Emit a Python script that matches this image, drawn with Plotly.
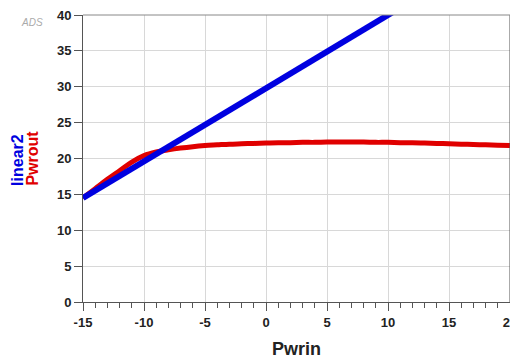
import plotly.graph_objects as go

pwrin = [-15, -14, -13, -12, -11, -10, -9, -8, -7, -6, -5, -4, -3, -2, -1, 0,
         1, 2, 3, 4, 5, 6, 7, 8, 9, 10, 11, 12, 13, 14, 15, 16, 17, 18, 19, 20]
pwrout = [14.5, 15.8, 17.1, 18.3, 19.5, 20.4, 20.9, 21.2, 21.45, 21.65, 21.8, 21.9, 22.0, 22.05, 22.1, 22.15,
          22.2, 22.2, 22.25, 22.25, 22.3, 22.3, 22.3, 22.3, 22.25, 22.25, 22.2, 22.2, 22.15, 22.1, 22.05, 22.0,
          21.95, 21.9, 21.85, 21.8]
lin_x = [-15, -10, -5, 0, 5, 10, 15, 20]
linear2 = [14.5, 19.6, 24.7, 29.8, 34.9, 40.0, 45.1, 50.2]

x_ticks = [-15, -10, -5, 0, 5, 10, 15, 20]
y_ticks = [0, 5, 10, 15, 20, 25, 30, 35, 40]

FONT = "Liberation Sans, Arial"
fig = go.Figure()
fig.add_trace(go.Scatter(x=pwrin, y=pwrout, mode="lines", name="Pwrout",
                         line=dict(color="#e00000", width=5, shape="spline")))
fig.add_trace(go.Scatter(x=lin_x, y=linear2, mode="lines", name="linear2",
                         line=dict(color="#0000e0", width=6)))

tickfont = dict(family=FONT, size=13, color="#222", weight="bold")
fig.update_layout(
    width=510, height=355,
    margin=dict(l=75, r=8, t=7, b=61, autoexpand=False),
    paper_bgcolor="white", plot_bgcolor="white",
    showlegend=False,
    xaxis=dict(range=[-15, 20], tickvals=x_ticks, ticktext=[str(v) for v in x_ticks],
               showgrid=True, gridcolor="#d8d8d8", gridwidth=1,
               showline=True, linecolor="#555", linewidth=1,
               ticks="outside", ticklen=8, tickcolor="#555",
               minor=dict(dtick=1, ticks="outside", ticklen=5, tickcolor="#555", showgrid=False),
               tickfont=tickfont, zeroline=False, automargin=False, ticklabeloverflow="allow",
               title=dict(text="<b>Pwrin</b>", font=dict(family=FONT, size=18, color="#222"),
                          standoff=13)),
    yaxis=dict(range=[0, 40], tickvals=y_ticks, ticktext=[str(v) for v in y_ticks],
               showgrid=True, gridcolor="#d8d8d8", gridwidth=1,
               showline=True, linecolor="#555", linewidth=1,
               ticks="outside", ticklen=8, tickcolor="#555",
               tickfont=tickfont, zeroline=False, automargin=False, ticklabeloverflow="allow"),
)

# right border and top line
fig.add_shape(type="line", xref="x", yref="paper", x0=20, x1=20, y0=0, y1=1,
              line=dict(color="#555", width=1))
fig.add_shape(type="line", xref="paper", yref="paper", x0=0, x1=1, y0=1, y1=1,
              line=dict(color="#888", width=1))

fig.add_annotation(text="<b>linear2</b>", xref="paper", yref="paper", x=-0.155, y=0.397,
                   xanchor="center", yanchor="bottom", textangle=-90, showarrow=False,
                   font=dict(family=FONT, size=16, color="#0000e0"))
fig.add_annotation(text="<b>Pwrout</b>", xref="paper", yref="paper", x=-0.117, y=0.397,
                   xanchor="center", yanchor="bottom", textangle=-90, showarrow=False,
                   font=dict(family=FONT, size=16, color="#e00000"))
fig.add_annotation(text="<i>ADS</i>", xref="paper", yref="paper", x=-0.12, y=0.975,
                   xanchor="center", yanchor="middle", showarrow=False,
                   font=dict(family=FONT, size=10, color="#aaa"))

fig.write_html("out.html")
